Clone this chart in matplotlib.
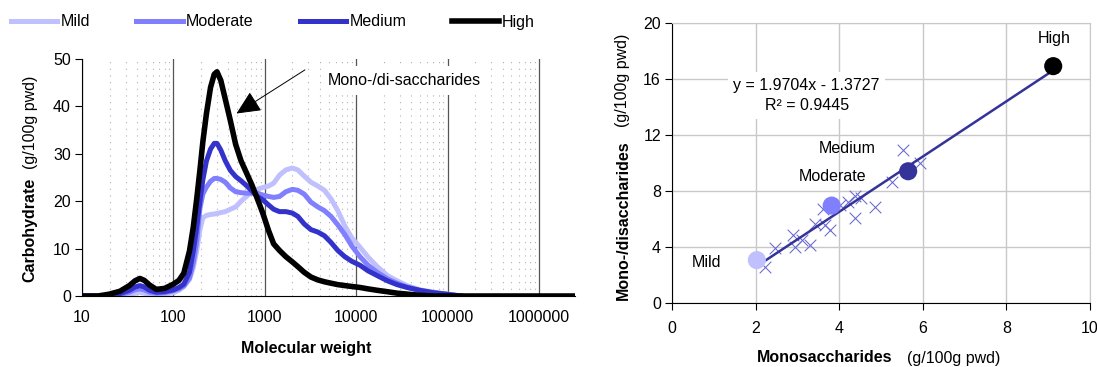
import matplotlib
matplotlib.use("Agg")
import matplotlib.pyplot as plt
from matplotlib.ticker import FixedLocator, FixedFormatter, NullFormatter

plt.rcParams["font.family"] = ["Liberation Sans", "DejaVu Sans"]
plt.rcParams["font.size"] = 11.5

# ---- molecular weight distributions (g/100g pwd) ----
mw = [10, 15, 20, 26, 33, 38, 43, 48, 55, 65, 80, 100, 115, 130, 150, 165, 180,
      195, 210, 230, 255, 280, 300, 330, 370, 420, 480, 550, 630, 720, 830, 950,
      1100, 1250, 1450, 1700, 2000, 2300, 2700, 3200, 3800, 4500, 5300, 6300,
      7500, 9000, 11000, 13500, 17000, 22000, 28000, 36000, 50000, 70000,
      100000, 140000, 2480000]

mild = [0, 0, 0, 0.1, 0.3, 0.6, 0.8, 0.6, 0.4, 0.3, 0.4, 0.7, 1.2, 2.0, 3.5, 6.0,
        9.5, 14.0, 16.5, 17.0, 17.2, 17.3, 17.4, 17.6, 17.8, 18.3, 18.8, 20.0,
        21.0, 22.0, 22.5, 22.9, 23.2, 23.8, 25.5, 26.6, 27.0, 26.6, 25.3, 24.0,
        23.2, 22.3, 20.5, 18.0, 14.8, 12.2, 10.3, 8.2, 6.2, 4.3, 3.2, 2.2, 1.3,
        0.8, 0.4, 0, None]
moderate = [0, 0, 0.1, 0.3, 0.8, 1.3, 1.5, 1.3, 0.8, 0.6, 0.7, 1.1, 1.5, 2.1,
            3.8, 7.0, 11.5, 18.5, 21.5, 23.0, 24.2, 24.8, 24.8, 24.6, 24.0, 22.8,
            22.0, 21.8, 21.7, 21.7, 21.7, 21.3, 21.0, 20.8, 21.0, 22.0, 22.5,
            22.3, 21.5, 19.8, 18.8, 18.0, 16.8, 15.0, 13.0, 10.5, 8.3, 6.5, 5.0,
            3.6, 2.7, 1.9, 1.1, 0.7, 0.35, 0, None]
medium = [0, 0, 0.2, 0.5, 1.2, 1.9, 2.2, 1.9, 1.2, 0.8, 0.9, 1.3, 1.8, 2.5, 5.0,
          9.5, 14.5, 20.0, 24.5, 28.5, 31.0, 32.2, 32.2, 30.8, 28.5, 26.5, 25.2,
          24.3, 23.3, 22.2, 21.0, 20.3, 19.2, 18.3, 17.8, 17.8, 17.5, 16.8, 15.2,
          14.0, 13.5, 12.7, 11.3, 9.6, 8.3, 7.3, 6.5, 5.3, 4.3, 3.2, 2.4, 1.8,
          1.2, 0.7, 0.35, 0, None]
high = [0, 0, 0.4, 1.0, 2.2, 3.2, 3.7, 3.3, 2.3, 1.4, 1.6, 2.5, 3.3, 4.8, 9.5,
        14.5, 20.5, 26.5, 32.5, 38.5, 44.0, 46.8, 47.3, 45.5, 41.5, 37.0, 32.0,
        28.5, 26.0, 23.5, 20.5, 17.5, 13.8, 11.0, 9.6, 8.3, 7.2, 6.2, 5.0, 4.0,
        3.4, 3.0, 2.7, 2.4, 2.2, 2.0, 1.8, 1.5, 1.2, 0.9, 0.6, 0.4, 0.15, 0, 0,
        0, 0]

series_names = ["Mild", "Moderate", "Medium", "High"]
series_vals = [mild, moderate, medium, high]
line_colors = ["#c0c0ff", "#8080ff", "#3333cc", "#000000"]
line_widths = [3.6, 3.6, 3.6, 4.0]

mw_ticks = [10, 100, 1000, 10000, 100000, 1000000]
mw_labels = ["10", "100", "1000", "10000", "100000", "1000000"]

# ---- mono- vs mono/di-saccharides ----
mono = [2.22, 2.46, 2.90, 2.94, 3.10, 3.30, 3.42, 3.62, 3.66, 3.78, 4.02, 4.22,
        4.38, 4.38, 4.52, 4.86, 5.27, 5.53, 5.93]
monodi = [2.60, 3.90, 4.85, 4.03, 4.49, 4.13, 5.65, 6.68, 5.55, 5.20, 6.98, 7.22,
          6.10, 7.65, 7.48, 6.85, 8.62, 10.90, 9.96]

group_names = ["Mild", "Moderate", "Medium", "High"]
group_mono = [2.03, 3.82, 5.65, 9.12]
group_monodi = [3.06, 6.95, 9.40, 16.90]
group_colors = ["#c0c0ff", "#8080ff", "#333399", "#000000"]
label_xy = [(0.83, 2.87), (3.83, 9.0), (4.20, 11.03), (9.14, 18.87)]

slope, intercept, r2 = 1.9704, -1.3727, 0.9445

W, H = 1097, 367
fig = plt.figure(figsize=(W / 100, H / 100), dpi=100)


def fx(px):
    return px / W


def fy(py):
    return 1 - py / H


# left panel
ax1 = fig.add_axes([fx(82), fy(296), fx(575 - 82), (296 - 59) / H])
handles = []
for name, vals, c, lw in zip(series_names, series_vals, line_colors, line_widths):
    pts = [(m, v) for m, v in zip(mw, vals) if v is not None]
    h, = ax1.plot([p[0] for p in pts], [p[1] for p in pts], color=c, lw=lw,
                  solid_joinstyle="round", label=name)
    handles.append(h)
ax1.set_xscale("log")
ax1.set_xlim(10, 2.48e6)
ax1.set_ylim(0, 50)
ax1.xaxis.set_major_locator(FixedLocator(mw_ticks))
ax1.xaxis.set_major_formatter(FixedFormatter(mw_labels))
minor = [k * 10 ** e for e in range(1, 6) for k in range(2, 10)]
ax1.xaxis.set_minor_locator(FixedLocator(minor))
ax1.xaxis.set_minor_formatter(NullFormatter())
ax1.set_yticks([0, 10, 20, 30, 40, 50])
ax1.grid(True, which="major", axis="x", color="#555555", lw=0.9)
ax1.grid(True, which="minor", axis="x", color="#b0b0b0", lw=0.8,
         linestyle=(0, (1, 5)))
ax1.set_axisbelow(True)
for s in ["top", "right"]:
    ax1.spines[s].set_visible(False)
ax1.tick_params(axis="x", which="major", length=0, pad=10)
ax1.tick_params(axis="x", which="minor", length=0)
ax1.tick_params(axis="y", length=5, pad=3)

ax1.annotate("", xy=(490, 38.5), xytext=(2750, 47.7),
             arrowprops=dict(arrowstyle="-|>,head_length=0.75,head_width=0.35",
                             color="black", lw=0.7, mutation_scale=20,
                             shrinkA=0, shrinkB=0))
ax1.text(34000, 45.4, "Mono-/di-saccharides", ha="center", va="center",
         bbox=dict(facecolor="white", edgecolor="none", pad=5))

fig.legend(handles=handles, loc="center left", bbox_to_anchor=(fx(11), fy(22)),
           ncol=4, frameon=False, borderpad=0, borderaxespad=0,
           handlelength=2.9, handletextpad=0.2, columnspacing=2.9)

fig.text(fx(306), fy(348), "Molecular weight", ha="center", va="center",
         fontweight="bold")
fig.text(fx(30), fy(230), "Carbohydrate", rotation=90, ha="center",
         va="center", fontweight="bold")
fig.text(fx(30), fy(122), "(g/100g pwd)", rotation=90, ha="center",
         va="center")

# right panel
ax2 = fig.add_axes([fx(672), fy(303), fx(1090 - 672), (303 - 22.7) / H])
ax2.scatter(mono, monodi, marker="x", s=70, color="#6868d0", lw=0.75, zorder=3)
xs = [group_mono[0], group_mono[-1]]
ax2.plot(xs, [slope * x + intercept for x in xs], color="#333399", lw=1.8,
         zorder=4)
ax2.scatter(group_mono, group_monodi, s=170, c=group_colors, zorder=5,
            edgecolors="none")
for name, (tx, ty) in zip(group_names, label_xy):
    ax2.text(tx, ty, name, ha="center", va="center")
ax2.text(3.22, 14.8, f"y = {slope:.4f}x - {abs(intercept):.4f}\nR\u00b2 = {r2:.4f}",
         ha="center", va="center", linespacing=1.45,
         bbox=dict(facecolor="white", edgecolor="none", pad=4), zorder=6)
ax2.set_xlim(0, 10)
ax2.set_ylim(0, 20)
ax2.set_xticks([0, 2, 4, 6, 8, 10])
ax2.set_yticks([0, 4, 8, 12, 16, 20])
ax2.grid(True, color="#c8c8c8", lw=1)
ax2.set_axisbelow(True)
for s in ["top", "right"]:
    ax2.spines[s].set_color("#c8c8c8")
ax2.tick_params(axis="x", length=5, pad=8)
ax2.tick_params(axis="y", length=5, pad=3)

fig.text(fx(825), fy(358), "Monosaccharides", ha="center", va="center",
         fontweight="bold")
fig.text(fx(954), fy(358), "(g/100g pwd)", ha="center", va="center")
fig.text(fx(623), fy(220), "Mono-/disaccharides", rotation=90, ha="center",
         va="center", fontweight="bold")
fig.text(fx(623), fy(80), "(g/100g pwd)", rotation=90, ha="center",
         va="center")

fig.savefig("out.png", dpi=100)
